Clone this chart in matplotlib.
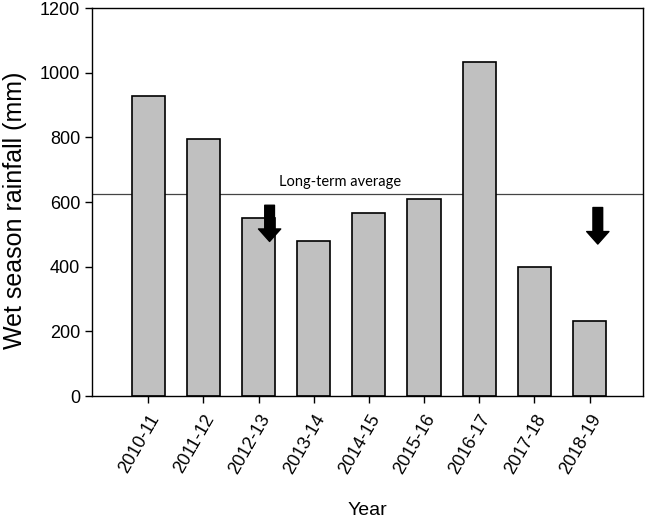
import numpy as np
import matplotlib
matplotlib.use("Agg")
import matplotlib.pyplot as plt

plt.rcParams["font.family"] = ["Liberation Sans", "DejaVu Sans"]

years = ["2010-11", "2011-12", "2012-13", "2013-14", "2014-15",
         "2015-16", "2016-17", "2017-18", "2018-19"]
rainfall = [928, 794, 550, 479, 567, 608, 1032, 399, 233]
long_term_avg = 624
# arrows: (x index, start, end)
arrow_x = [2.2, 8.15]
arrow_start = [590, 583]
arrow_end = [478, 470]

x = np.arange(len(years))

fig = plt.figure(figsize=(6.46, 5.21), dpi=100)
ax = fig.add_axes([0.1424, 0.2399, 0.853, 0.7447])

ax.bar(x, rainfall, width=0.6, color="#c0c0c0", edgecolor="black",
       linewidth=1.2, zorder=2)
ax.axhline(long_term_avg, color="#444444", linewidth=0.9, zorder=1)
ax.text(3.48, long_term_avg + 16, "Long-term average", ha="center",
        va="bottom", fontsize=10.5, family=["Lato", "DejaVu Sans"])

for xa, y0, y1 in zip(arrow_x, arrow_start, arrow_end):
    ax.annotate("", xy=(xa, y1), xytext=(xa, y0),
                arrowprops=dict(facecolor="black", edgecolor="black",
                                width=7, headwidth=16, headlength=9,
                                shrink=0), zorder=3)

ax.set_xlim(-1.02, 8.97)
ax.set_ylim(0, 1200)
ax.set_yticks(np.arange(0, 1201, 200))
ax.set_xticks(x)
ax.set_xticklabels(years, rotation=60, ha="right", rotation_mode="anchor",
                   fontsize=13)
ax.tick_params(axis="y", labelsize=13, length=5, width=1, direction="out")
ax.tick_params(axis="x", length=5, width=1, direction="out", pad=6)
for s in ax.spines.values():
    s.set_linewidth(1)

ax.set_xlabel("Year", fontsize=14, labelpad=18)
ax.set_ylabel("Wet season rainfall (mm)", fontsize=18)
ax.yaxis.set_label_coords(-0.118, 0.479)

fig.savefig("out.png", dpi=100)
